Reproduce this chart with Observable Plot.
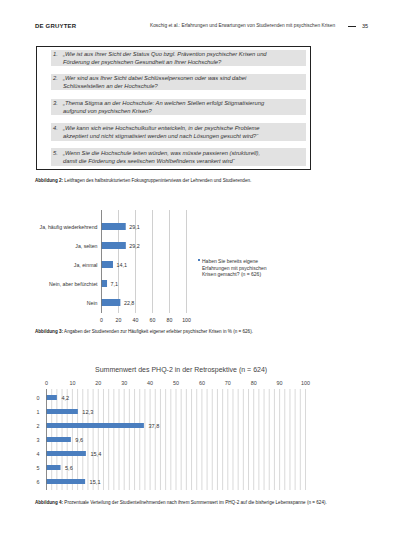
<!DOCTYPE html>
<html><head><meta charset="utf-8">
<script src="https://cdn.jsdelivr.net/npm/d3@7"></script>
<script src="https://cdn.jsdelivr.net/npm/@observablehq/plot@0.6"></script>
<style>
body{margin:0;background:#fff;}
#page{position:relative;width:413px;height:551px;overflow:hidden;font-family:"Liberation Sans",Arial,sans-serif;color:#222;}
.abs{position:absolute;white-space:nowrap;}
.row{position:absolute;left:51px;width:255px;background:#e2e2e2;}
.q{position:absolute;font-style:italic;font-size:5.8px;line-height:8px;color:#333;white-space:nowrap;}
.cap{position:absolute;left:35px;font-size:4.6px;line-height:6px;white-space:nowrap;color:#222;}
svg{position:absolute;left:0;overflow:visible;}
</style></head>
<body><div id="page">
<div class="abs" style="left:35px;top:23px;font-size:6px;line-height:6px;font-weight:bold;letter-spacing:0.2px;">DE GRUYTER</div>
<div class="abs" style="left:150px;top:23px;font-size:4.8px;line-height:6px;color:#333;">Koschig et al.: Erfahrungen und Erwartungen von Studierenden mit psychischen Krisen</div>
<div class="abs" style="left:348px;top:25.5px;width:8px;height:1px;background:#222;"></div>
<div class="abs" style="left:362px;top:23px;font-size:5.5px;line-height:6px;">35</div>

<div class="abs" style="left:36px;top:46px;width:273px;height:122px;border:1px solid #222;"></div>
<div id="rows"></div>

<div class="cap" style="top:178px;"><b>Abbildung 2:</b> Leitfragen des halbstrukturierten Fokusgruppeninterviews der Lehrenden und Studierenden.</div>

<div id="c1"></div>
<div class="abs" style="left:198px;top:259px;width:2px;height:2px;background:#4a7ebf;"></div>
<div class="abs" style="left:202px;top:258px;font-size:5px;line-height:6.5px;color:#333;">Haben Sie bereits eigene<br>Erfahrungen mit psychischen<br>Krisen gemacht? (n = 626)</div>

<div class="cap" style="top:329px;"><b>Abbildung 3:</b> Angaben der Studierenden zur Häufigkeit eigener erlebter psychischer Krisen in % (n = 626).</div>

<div class="abs" style="left:95px;top:365px;font-size:7px;line-height:10px;color:#444;">Summenwert des PHQ-2 in der Retrospektive (n = 624)</div>
<div id="c2"></div>

<div class="cap" style="top:500px;"><b>Abbildung 4:</b> Prozentuale Verteilung der Studienteilnehmenden nach ihrem Summenwert im PHQ-2 auf die bisherige Lebensspanne (n = 624).</div>
</div>
<script>
// Leitfragen
const questions = [
  ["„Wie ist aus Ihrer Sicht der Status Quo bzgl. Prävention psychischer Krisen und", "Förderung der psychischen Gesundheit an Ihrer Hochschule?"],
  ["„Wer sind aus Ihrer Sicht dabei Schlüsselpersonen oder was sind dabei", "Schlüsselstellen an der Hochschule?"],
  ["„Thema Stigma an der Hochschule: An welchen Stellen erfolgt Stigmatisierung", "aufgrund von psychischen Krisen?"],
  ["„Wie kann sich eine Hochschulkultur entwickeln, in der psychische Probleme", "akzeptiert und nicht stigmatisiert werden und nach Lösungen gesucht wird?“"],
  ["„Wenn Sie die Hochschule leiten würden, was müsste passieren (strukturell),", "damit die Förderung des seelischen Wohlbefindens verankert wird“"]
];
const rowTops = [50, 74, 99, 123, 148];

// Abbildung 3
const cat1 = ["Ja, häufig wiederkehrend", "Ja, selten", "Ja, einmal", "Nein, aber befürchtet", "Nein"];
const val1 = [29.1, 29.2, 14.1, 7.1, 22.8];
const ticks1 = [0, 20, 40, 60, 80, 100];

// Abbildung 4
const cat2 = ["0", "1", "2", "3", "4", "5", "6"];
const val2 = [4.2, 12.3, 37.8, 9.6, 15.4, 5.6, 15.1];
const ticks2 = [0, 10, 20, 30, 40, 50, 60, 70, 80, 90, 100];
const grid2 = d3.range(0, 101, 2);

const rows = document.getElementById("rows");
questions.forEach((q, i) => {
  const r = document.createElement("div");
  r.className = "row"; r.style.top = rowTops[i] + "px"; r.style.height = (i >= 3 ? 18 : 16) + "px";
  rows.appendChild(r);
  const n = document.createElement("div");
  n.className = "q"; n.style.left = "53px"; n.style.top = (rowTops[i] + (i>=3?1:0)) + "px";
  n.textContent = (i + 1) + ".";
  rows.appendChild(n);
  const t = document.createElement("div");
  t.className = "q"; t.style.left = "63px"; t.style.top = (rowTops[i] + (i>=3?1:0)) + "px";
  t.innerHTML = q[0] + "<br>" + q[1];
  rows.appendChild(t);
});

const fmt = v => v.toFixed(1).replace(".", ",");
const blue = "#4a7ebf";
const font = "'Liberation Sans', Arial, sans-serif";

const d1 = cat1.map((c, i) => ({c, v: val1[i]}));
const p1 = Plot.plot({
  width: 200, height: 130,
  marginLeft: 101, marginRight: 14, marginTop: 10, marginBottom: 17,
  style: {fontFamily: font, fontSize: "5.2px", color: "#333", background: "transparent"},
  x: {domain: [0, 100], ticks: ticks1, tickSize: 0, tickPadding: 5, label: null},
  y: {domain: cat1, paddingInner: 0.64, paddingOuter: 0.461, align: 0.64, tickSize: 0, tickPadding: 4, label: null},
  marks: [
    Plot.ruleX(ticks1, {stroke: "#c4c4c4", strokeWidth: 0.8}),
    Plot.barX(d1, {x: "v", y: "c", fill: blue}),
    Plot.ruleX([0], {stroke: "#777", strokeWidth: 0.8}),
    Plot.text(d1, {x: "v", y: "c", text: d => fmt(d.v), textAnchor: "start", dx: 3, fontSize: 5.4, fill: "#333"})
  ]
});
p1.style.top = "200px";
document.getElementById("c1").appendChild(p1);

const d2 = cat2.map((c, i) => ({c, v: val2[i]}));
const p2 = Plot.plot({
  width: 320, height: 135,
  marginLeft: 46, marginRight: 15, marginTop: 29, marginBottom: 5,
  style: {fontFamily: font, fontSize: "5.4px", color: "#444", background: "transparent"},
  x: {domain: [0, 100], axis: "top", ticks: ticks2, tickSize: 0, tickPadding: 5, label: null},
  y: {domain: cat2, paddingInner: 0.634, paddingOuter: 0.3, align: 0.5, tickSize: 0, tickPadding: 7, label: null},
  marks: [
    Plot.ruleX(grid2, {stroke: "#c8c8c8", strokeWidth: 0.7}),
    Plot.barX(d2, {x: "v", y: "c", fill: blue}),
    Plot.ruleX([0], {stroke: "#777", strokeWidth: 0.8}),
    Plot.text(d2, {x: "v", y: "c", text: d => fmt(d.v), textAnchor: "start", dx: 4, fontSize: 5.6, fill: "#333"})
  ]
});
p2.style.top = "360px";
document.getElementById("c2").appendChild(p2);
</script>
</body></html>
